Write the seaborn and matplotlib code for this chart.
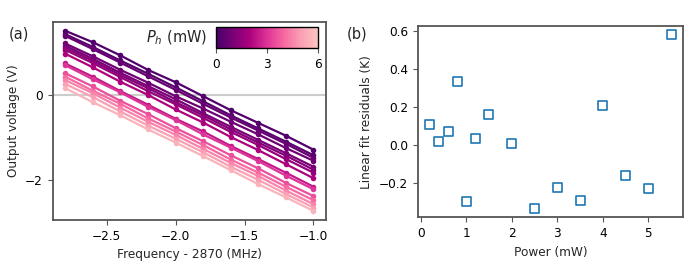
import numpy as np
import pandas as pd
import matplotlib
matplotlib.use("Agg")
import matplotlib.pyplot as plt
import matplotlib.colors as mcolors
import seaborn as sns

# ---- data ----
freq = [-2.8, -2.6, -2.4, -2.2, -2.0, -1.8, -1.6, -1.4, -1.2, -1.0]
powers = [0.2, 0.4, 0.6, 0.8, 1.0, 1.2, 1.5, 2.0, 2.5, 3.0, 3.5, 4.0, 4.5, 5.0, 5.5]
voltages = [
    [1.52, 1.25, 0.94, 0.60, 0.31, -0.02, -0.35, -0.65, -0.95, -1.28],
    [1.44, 1.14, 0.82, 0.51, 0.19, -0.14, -0.47, -0.78, -1.09, -1.41],
    [1.40, 1.09, 0.77, 0.45, 0.13, -0.20, -0.52, -0.83, -1.14, -1.47],
    [1.22, 0.92, 0.60, 0.30, -0.02, -0.31, -0.62, -0.92, -1.24, -1.54],
    [1.17, 0.86, 0.53, 0.22, -0.09, -0.42, -0.74, -1.05, -1.36, -1.68],
    [1.12, 0.81, 0.48, 0.17, -0.16, -0.47, -0.80, -1.11, -1.42, -1.75],
    [1.07, 0.76, 0.43, 0.10, -0.21, -0.53, -0.86, -1.17, -1.50, -1.82],
    [0.98, 0.66, 0.32, 0.01, -0.33, -0.64, -0.98, -1.29, -1.62, -1.95],
    [0.75, 0.44, 0.10, -0.22, -0.55, -0.85, -1.19, -1.50, -1.82, -2.15],
    [0.71, 0.38, 0.07, -0.27, -0.58, -0.92, -1.23, -1.55, -1.89, -2.21],
    [0.52, 0.21, -0.13, -0.44, -0.77, -1.08, -1.41, -1.72, -2.06, -2.37],
    [0.44, 0.11, -0.20, -0.54, -0.85, -1.17, -1.51, -1.82, -2.15, -2.47],
    [0.36, 0.05, -0.29, -0.62, -0.93, -1.26, -1.59, -1.90, -2.24, -2.56],
    [0.27, -0.04, -0.38, -0.71, -1.02, -1.34, -1.68, -1.99, -2.32, -2.64],
    [0.17, -0.16, -0.47, -0.80, -1.11, -1.43, -1.76, -2.09, -2.40, -2.72],
]
res_power = [0.2, 0.4, 0.6, 0.8, 1.0, 1.2, 1.5, 2.0, 2.5, 3.0, 3.5, 4.0, 4.5, 5.0, 5.5]
residuals = [0.11, 0.02, 0.07, 0.335, -0.30, 0.035, 0.16, 0.005, -0.335, -0.225,
             -0.29, 0.205, -0.16, -0.23, 0.58]
cbar_ticks = [0, 3, 6]

# ---- style ----
sns.set_style("white")
plt.rcParams['font.family'] = ['DejaVu Sans']
plt.rcParams['axes.edgecolor'] = '#555555'
plt.rcParams['axes.linewidth'] = 1.3
plt.rcParams['xtick.color'] = '#555555'
plt.rcParams['ytick.color'] = '#555555'
plt.rcParams['xtick.labelcolor'] = 'black'
plt.rcParams['ytick.labelcolor'] = 'black'
plt.rcParams['xtick.bottom'] = True
plt.rcParams['ytick.left'] = True
plt.rcParams['xtick.major.size'] = 3.5
plt.rcParams['ytick.major.size'] = 3.5

base = plt.get_cmap('RdPu_r')
cmap = mcolors.LinearSegmentedColormap.from_list(
    'rdpu_trunc', base(np.linspace(0.0, 0.75, 256)))
norm = mcolors.Normalize(vmin=0, vmax=6)

rows = []
for p, vs in zip(powers, voltages):
    for f, v in zip(freq, vs):
        rows.append({'freq': f, 'volt': v, 'power': p})
df = pd.DataFrame(rows)
df_res = pd.DataFrame({'power': res_power, 'res': residuals})

fig = plt.figure(figsize=(6.97, 2.65), dpi=100)
ax1 = fig.add_axes([0.0756, 0.170, 0.392, 0.748])
ax2 = fig.add_axes([0.5993, 0.180, 0.381, 0.722])

ax1.axhline(0, color='#cccccc', lw=1.5, zorder=0)
sns.lineplot(data=df, x='freq', y='volt', hue='power', palette=cmap,
             hue_norm=norm, estimator=None, marker='o', markersize=4,
             markeredgewidth=0, lw=1.6, legend=False, ax=ax1)
ax1.set_xlabel('Frequency - 2870 (MHz)', fontsize=8.7)
ax1.set_ylabel('Output voltage (V)', fontsize=8.7)
ax1.set_xticks([-2.5, -2.0, -1.5, -1.0])
ax1.set_yticks([-2, 0])
ax1.tick_params(labelsize=8.7)

sns.scatterplot(data=df_res, x='power', y='res', marker='s', s=42,
                facecolors='none', edgecolor='#1f77b4', linewidth=1.2, ax=ax2)
ax2.set_xlabel('Power (mW)', fontsize=8.7)
ax2.set_ylabel('Linear fit residuals (K)', fontsize=8.7)
ax2.set_xticks([0, 1, 2, 3, 4, 5])
ax2.set_yticks([-0.2, 0.0, 0.2, 0.4, 0.6])
ax2.tick_params(labelsize=8.7)

# colorbar inset
cax = fig.add_axes([0.310, 0.818, 0.146, 0.079])
sm = matplotlib.cm.ScalarMappable(norm=norm, cmap=cmap)
cb = fig.colorbar(sm, cax=cax, orientation='horizontal', ticks=cbar_ticks)
cb.outline.set_edgecolor('black')
cb.outline.set_linewidth(1.0)
cax.tick_params(labelsize=8.7, color='#555555', length=3.5)
fig.text(0.298, 0.858, '$P_h$ (mW)', ha='right', va='center', fontsize=10.5)

fig.text(0.013, 0.87, '(a)', fontsize=10.5, va='center')
fig.text(0.498, 0.87, '(b)', fontsize=10.5, va='center')

fig.savefig('out.png', dpi=100)
